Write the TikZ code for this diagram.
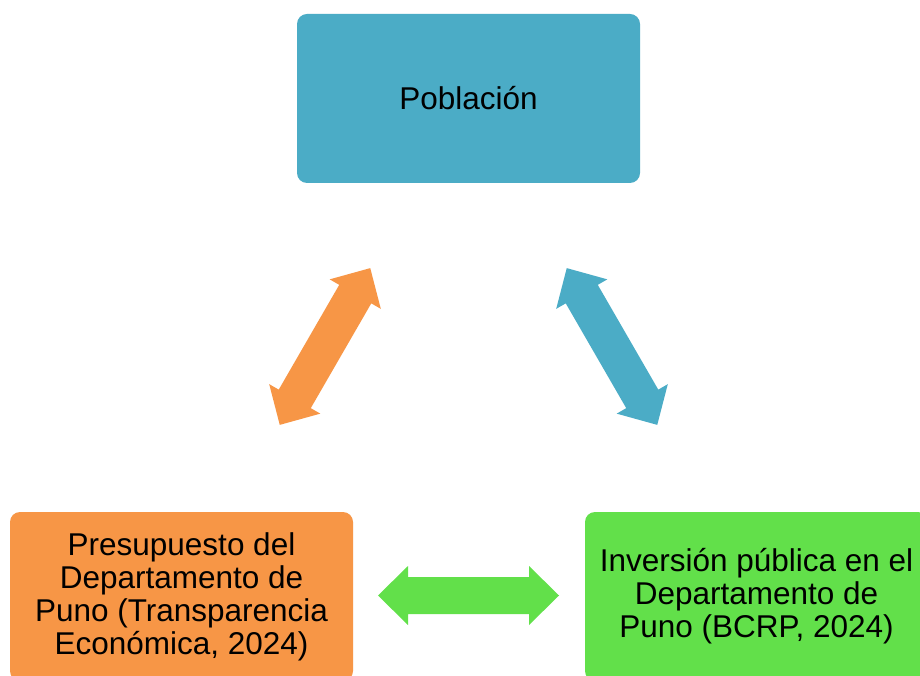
\documentclass[tikz,border=0pt]{standalone}
\usepackage{fontspec}
\setmainfont{Liberation Sans}
\definecolor{cblue}{RGB}{75,172,198}
\definecolor{corange}{RGB}{247,150,70}
\definecolor{cgreen}{RGB}{98,224,74}
\begin{document}
\begin{tikzpicture}[x=1pt,y=1pt,
  box/.style={rectangle, rounded corners=10pt, minimum width=343pt, minimum height=169pt,
    inner sep=0pt, align=center, font=\fontsize{31.5}{33}\selectfont, text=black},
  blockarrow/.style={draw=none}]
\useasboundingbox (0,0) rectangle (920,675);
\clip (0,0) rectangle (920,675);
\fill[white] (0,0) rectangle (920,675);
\node[box, fill=cblue] (pob) at (468.5,576.5) {Población};
\node[box, fill=corange] (pre) at (181.5,78.5) {Presupuesto del\\Departamento de\\Puno (Transparencia\\Económica, 2024)};
\node[box, fill=cgreen] (inv) at (756.5,78.5) {Inversión pública en el\\Departamento de\\Puno (BCRP, 2024)};
\def\dblarrow{(-90.5,0) -- (-60.5,29.5) -- (-60.5,18.5) -- (60.5,18.5) -- (60.5,29.5) -- (90.5,0) -- (60.5,-29.5) -- (60.5,-18.5) -- (-60.5,-18.5) -- (-60.5,-29.5) -- cycle}
\begin{scope}[shift={(325,328.5)}, rotate=60]
  \fill[corange] \dblarrow;
\end{scope}
\begin{scope}[shift={(612,328.5)}, rotate=120]
  \fill[cblue] \dblarrow;
\end{scope}
\begin{scope}[shift={(468.5,79.5)}]
  \fill[cgreen] \dblarrow;
\end{scope}
\end{tikzpicture}
\end{document}
